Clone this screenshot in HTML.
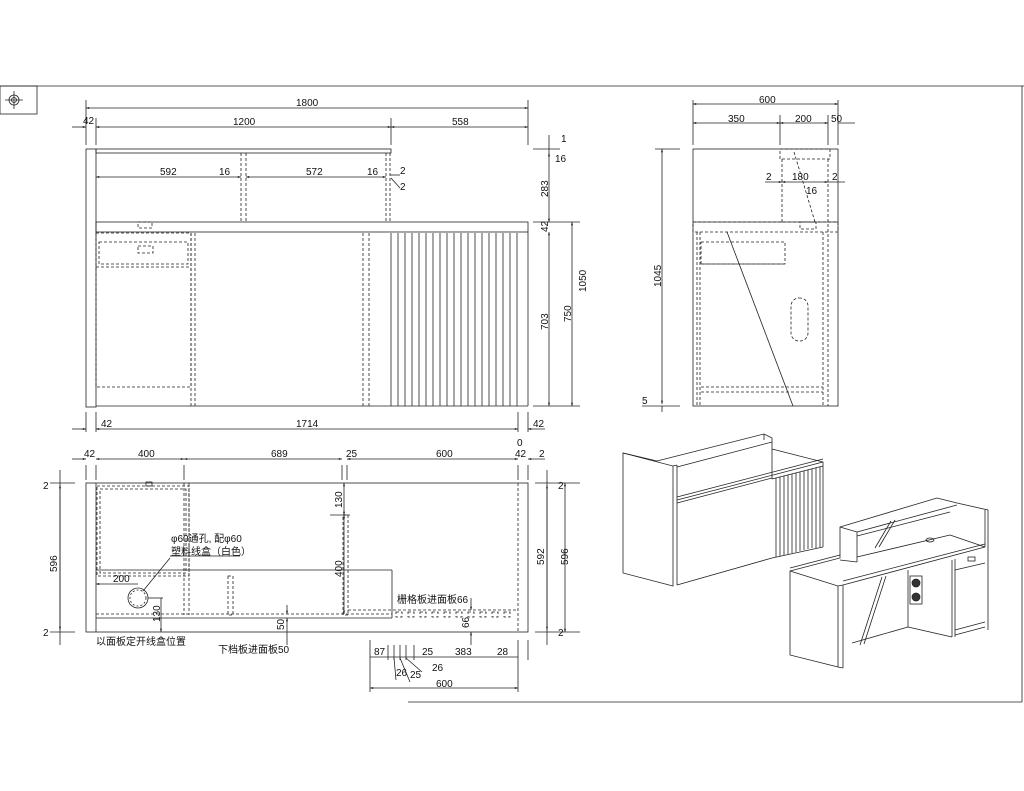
<!DOCTYPE html>
<html><head><meta charset="utf-8"><style>
html,body{margin:0;padding:0;background:#fff;width:1024px;height:791px;overflow:hidden}
svg{display:block}
text{font-family:"Liberation Sans","Noto Sans CJK SC",sans-serif;font-size:10px;fill:#111}
</style></head><body>
<svg width="1024" height="791" viewBox="0 0 1024 791" xmlns="http://www.w3.org/2000/svg">
<defs>
<marker id="a" viewBox="0 0 10 10" refX="10" refY="5" markerWidth="6" markerHeight="4" orient="auto-start-reverse"><path d="M0,2 L10,5 L0,8z" fill="#111"/></marker>
</defs>
<g stroke="#222" stroke-width="0.8" fill="none">
<!-- frame -->
<line x1="0" y1="86" x2="1024" y2="86"/>
<rect x="0" y="86" width="37" height="28"/>
<circle cx="14" cy="100" r="5"/><circle cx="14" cy="100" r="2.5"/>
<line x1="5" y1="100" x2="23" y2="100"/><line x1="14" y1="91" x2="14" y2="109"/>
<line x1="408" y1="702" x2="1022" y2="702"/><line x1="1022" y1="86" x2="1022" y2="702"/>

<!-- FRONT VIEW -->
<rect x="86" y="149" width="10" height="258"/>
<rect x="96" y="149" width="295" height="4"/>
<rect x="96" y="222" width="432" height="10"/>
<line x1="96" y1="406" x2="528" y2="406"/>
<line x1="528" y1="232" x2="528" y2="406"/>
<g stroke-dasharray="3,2">
<line x1="241" y1="153" x2="241" y2="222"/><line x1="246" y1="153" x2="246" y2="222"/>
<line x1="386" y1="153" x2="386" y2="222"/><line x1="390" y1="153" x2="390" y2="222"/>
<rect x="96" y="233" width="95" height="154"/>
<rect x="99" y="242" width="89" height="22"/>
<line x1="96" y1="267" x2="190" y2="267"/>
<line x1="191" y1="233" x2="191" y2="406"/><line x1="195" y1="233" x2="195" y2="406"/>
<line x1="363" y1="233" x2="363" y2="406"/><line x1="369" y1="233" x2="369" y2="406"/>
<rect x="138" y="222" width="14" height="6"/>
<rect x="138" y="246" width="15" height="7"/>
</g>
<g>
<line x1="391" y1="233" x2="391" y2="406"/>
<line x1="398" y1="233" x2="398" y2="406"/><line x1="405" y1="233" x2="405" y2="406"/>
<line x1="412" y1="233" x2="412" y2="406"/><line x1="419" y1="233" x2="419" y2="406"/>
<line x1="426" y1="233" x2="426" y2="406"/><line x1="433" y1="233" x2="433" y2="406"/>
<line x1="440" y1="233" x2="440" y2="406"/><line x1="447" y1="233" x2="447" y2="406"/>
<line x1="454" y1="233" x2="454" y2="406"/><line x1="461" y1="233" x2="461" y2="406"/>
<line x1="468" y1="233" x2="468" y2="406"/><line x1="475" y1="233" x2="475" y2="406"/>
<line x1="482" y1="233" x2="482" y2="406"/><line x1="489" y1="233" x2="489" y2="406"/>
<line x1="496" y1="233" x2="496" y2="406"/><line x1="503" y1="233" x2="503" y2="406"/>
<line x1="510" y1="233" x2="510" y2="406"/><line x1="517" y1="233" x2="517" y2="406"/>
</g>
<!-- front dims -->
<line x1="86" y1="100" x2="86" y2="145"/><line x1="96" y1="118" x2="96" y2="145"/>
<line x1="391" y1="118" x2="391" y2="145"/><line x1="528" y1="100" x2="528" y2="145"/>
<line x1="86" y1="108" x2="528" y2="108" marker-start="url(#a)" marker-end="url(#a)"/>
<line x1="96" y1="127" x2="391" y2="127" marker-start="url(#a)" marker-end="url(#a)"/>
<line x1="391" y1="127" x2="528" y2="127" marker-start="url(#a)" marker-end="url(#a)"/>
<line x1="72" y1="127" x2="86" y2="127" marker-end="url(#a)"/>
<line x1="96" y1="177" x2="241" y2="177" marker-start="url(#a)" marker-end="url(#a)"/>
<line x1="246" y1="177" x2="386" y2="177" marker-start="url(#a)" marker-end="url(#a)"/>
<line x1="390" y1="175" x2="400" y2="175"/><line x1="391" y1="178" x2="400" y2="188"/>
<line x1="533" y1="222" x2="580" y2="222"/><line x1="533" y1="406" x2="580" y2="406"/>
<line x1="533" y1="149" x2="560" y2="149"/>
<line x1="549" y1="135" x2="549" y2="155"/>
<line x1="549" y1="153" x2="549" y2="222" marker-start="url(#a)" marker-end="url(#a)"/>
<line x1="549" y1="232" x2="549" y2="406" marker-start="url(#a)" marker-end="url(#a)"/>
<line x1="572" y1="222" x2="572" y2="406" marker-start="url(#a)" marker-end="url(#a)"/>
<line x1="86" y1="412" x2="86" y2="432"/><line x1="96" y1="412" x2="96" y2="432"/>
<line x1="518" y1="412" x2="518" y2="432"/><line x1="528" y1="412" x2="528" y2="432"/>
<line x1="96" y1="429" x2="518" y2="429" marker-start="url(#a)" marker-end="url(#a)"/>
<line x1="72" y1="429" x2="86" y2="429" marker-end="url(#a)"/>
<line x1="545" y1="429" x2="528" y2="429" marker-end="url(#a)"/>

<!-- PLAN VIEW -->
<rect x="86" y="483" width="442" height="149"/>
<line x1="96" y1="483" x2="96" y2="632"/>
<line x1="96" y1="570" x2="392" y2="570"/>
<line x1="392" y1="570" x2="392" y2="618"/>
<line x1="96" y1="618" x2="392" y2="618"/>
<g stroke-dasharray="3,2">
<rect x="97" y="486" width="92" height="90"/><rect x="100" y="489" width="86" height="84"/>
<line x1="184" y1="483" x2="184" y2="615"/><line x1="189" y1="483" x2="189" y2="615"/>
<rect x="228" y="576" width="5" height="39"/>
<rect x="343" y="515" width="5" height="100"/>
<line x1="96" y1="614" x2="392" y2="614"/>
<line x1="348" y1="610" x2="517" y2="610"/>
<line x1="518" y1="483" x2="518" y2="632"/>
<rect x="396" y="612" width="6" height="5"/><rect x="408" y="612" width="6" height="5"/><rect x="420" y="612" width="6" height="5"/><rect x="432" y="612" width="6" height="5"/><rect x="444" y="612" width="6" height="5"/><rect x="456" y="612" width="6" height="5"/><rect x="468" y="612" width="6" height="5"/><rect x="480" y="612" width="6" height="5"/><rect x="492" y="612" width="6" height="5"/><rect x="504" y="612" width="6" height="5"/>
</g>
<rect x="146" y="482" width="6" height="4"/>
<circle cx="138" cy="598" r="10"/><circle cx="138" cy="598" r="8" stroke-dasharray="2,2"/>
<line x1="96" y1="584" x2="138" y2="584" marker-start="url(#a)"/>
<line x1="143" y1="591" x2="170" y2="558"/>
<line x1="170" y1="556" x2="240" y2="556"/>
<line x1="148" y1="598" x2="163" y2="598"/>
<line x1="161" y1="598" x2="161" y2="632" marker-end="url(#a)"/>
<line x1="330" y1="515" x2="350" y2="515"/>
<line x1="344" y1="483" x2="344" y2="515" marker-start="url(#a)" marker-end="url(#a)"/>
<line x1="344" y1="515" x2="344" y2="614" marker-start="url(#a)" marker-end="url(#a)"/>
<line x1="287" y1="605" x2="287" y2="614" marker-end="url(#a)"/>
<line x1="287" y1="645" x2="287" y2="618" marker-end="url(#a)"/>
<line x1="471" y1="598" x2="471" y2="610" marker-end="url(#a)"/>
<line x1="471" y1="645" x2="471" y2="632" marker-end="url(#a)"/>
<!-- plan dims -->
<line x1="86" y1="465" x2="86" y2="480"/><line x1="96" y1="465" x2="96" y2="480"/>
<line x1="184" y1="465" x2="184" y2="480"/><line x1="342" y1="465" x2="342" y2="480"/>
<line x1="347" y1="465" x2="347" y2="480"/><line x1="518" y1="465" x2="518" y2="480"/><line x1="528" y1="465" x2="528" y2="480"/>
<line x1="96" y1="459" x2="184" y2="459" marker-start="url(#a)" marker-end="url(#a)"/>
<line x1="184" y1="459" x2="342" y2="459" marker-start="url(#a)" marker-end="url(#a)"/>
<line x1="347" y1="459" x2="518" y2="459" marker-start="url(#a)" marker-end="url(#a)"/>
<line x1="72" y1="459" x2="86" y2="459" marker-end="url(#a)"/>
<line x1="545" y1="459" x2="528" y2="459" marker-end="url(#a)"/>
<line x1="50" y1="483" x2="75" y2="483"/><line x1="50" y1="632" x2="75" y2="632"/>
<line x1="60" y1="470" x2="60" y2="645"/>
<line x1="60" y1="485" x2="60" y2="630" marker-start="url(#a)" marker-end="url(#a)"/>
<line x1="535" y1="483" x2="580" y2="483"/><line x1="535" y1="632" x2="580" y2="632"/>
<line x1="547" y1="485" x2="547" y2="630" marker-start="url(#a)" marker-end="url(#a)"/>
<line x1="565" y1="483" x2="565" y2="632" marker-start="url(#a)" marker-end="url(#a)"/>
<line x1="547" y1="470" x2="547" y2="645"/>
<line x1="370" y1="640" x2="370" y2="692"/><line x1="518" y1="640" x2="518" y2="692"/><line x1="528" y1="640" x2="528" y2="660"/>
<line x1="370" y1="657" x2="518" y2="657"/>
<line x1="388" y1="645" x2="388" y2="660"/><line x1="394" y1="645" x2="394" y2="660"/><line x1="400" y1="645" x2="400" y2="660"/><line x1="406" y1="645" x2="406" y2="660"/><line x1="414" y1="645" x2="414" y2="660"/>
<line x1="370" y1="688" x2="518" y2="688" marker-start="url(#a)" marker-end="url(#a)"/>
<line x1="394" y1="658" x2="396" y2="680"/><line x1="400" y1="658" x2="410" y2="682"/><line x1="406" y1="658" x2="422" y2="672"/>
</g>

<!-- SIDE VIEW -->
<g stroke="#222" stroke-width="0.8" fill="none">
<rect x="693" y="149" width="145" height="257"/>
<line x1="693" y1="222" x2="838" y2="222"/>
<g stroke-dasharray="3,2">
<rect x="693" y="222" width="145" height="10"/>
<rect x="780" y="149" width="50" height="10"/>
<line x1="782" y1="159" x2="782" y2="222"/><line x1="828" y1="159" x2="828" y2="406"/><line x1="823" y1="232" x2="823" y2="406"/>
<line x1="794" y1="152" x2="815" y2="222"/>
<rect x="800" y="222" width="16" height="7"/>
<rect x="701" y="242" width="84" height="22"/><line x1="701" y1="264" x2="785" y2="264"/>
<line x1="697" y1="232" x2="697" y2="406"/><line x1="700" y1="232" x2="700" y2="406"/>
<line x1="701" y1="387" x2="823" y2="387"/><line x1="701" y1="392" x2="823" y2="392"/>
<rect x="791" y="298" width="17" height="43" rx="8"/>
</g>
<line x1="727" y1="232" x2="793" y2="406"/>
<line x1="693" y1="100" x2="693" y2="145"/><line x1="780" y1="115" x2="780" y2="145"/><line x1="828" y1="115" x2="828" y2="145"/><line x1="838" y1="100" x2="838" y2="145"/>
<line x1="693" y1="104" x2="838" y2="104" marker-start="url(#a)" marker-end="url(#a)"/>
<line x1="693" y1="123" x2="780" y2="123" marker-start="url(#a)" marker-end="url(#a)"/>
<line x1="780" y1="123" x2="828" y2="123" marker-start="url(#a)" marker-end="url(#a)"/>
<line x1="838" y1="123" x2="855" y2="123"/>
<line x1="765" y1="182" x2="782" y2="182" marker-end="url(#a)"/>
<line x1="782" y1="182" x2="828" y2="182" marker-start="url(#a)" marker-end="url(#a)"/>
<line x1="828" y1="182" x2="845" y2="182"/>
<line x1="655" y1="149" x2="680" y2="149"/><line x1="642" y1="406" x2="680" y2="406"/>
<line x1="662" y1="149" x2="662" y2="404" marker-start="url(#a)" marker-end="url(#a)"/>
<line x1="662" y1="406" x2="662" y2="412"/>
</g>

<!-- ISO LEFT -->
<g stroke="#222" stroke-width="0.8" fill="none">
<polygon points="623,453 673,466 673,586 623,573"/>
<line x1="673" y1="466" x2="677" y2="465"/><line x1="677" y1="465" x2="677" y2="585"/>
<polyline points="623,453 657,461 764,434 772,438 772,442 677,467"/>
<line x1="764" y1="434" x2="764" y2="440"/>
<line x1="772" y1="442" x2="772" y2="479"/>
<polyline points="772,449 823,462 823,547"/>
<polyline points="677,497 823,459"/>
<polyline points="677,500 823,462"/>
<line x1="677" y1="503" x2="772" y2="478"/>
<line x1="677" y1="585" x2="772" y2="558"/>
<line x1="772" y1="479" x2="823" y2="466"/>
<line x1="772" y1="558" x2="823" y2="547"/>
<g>
<line x1="776" y1="478" x2="776" y2="557"/><line x1="780" y1="477" x2="780" y2="556"/><line x1="784" y1="476" x2="784" y2="555"/>
<line x1="788" y1="475" x2="788" y2="554"/><line x1="792" y1="474" x2="792" y2="553"/><line x1="796" y1="473" x2="796" y2="552"/>
<line x1="800" y1="472" x2="800" y2="551"/><line x1="804" y1="471" x2="804" y2="550"/><line x1="808" y1="470" x2="808" y2="549"/>
<line x1="812" y1="469" x2="812" y2="548"/><line x1="816" y1="468" x2="816" y2="548"/><line x1="820" y1="467" x2="820" y2="547"/>
</g>
</g>

<!-- ISO RIGHT -->
<g stroke="#222" stroke-width="0.8" fill="none">
<polygon points="790,571 838,586 838,667 790,655"/>
<line x1="838" y1="586" x2="843" y2="585"/><line x1="843" y1="585" x2="843" y2="668"/><line x1="838" y1="667" x2="843" y2="668"/>
<polyline points="790,571 840,558 840,527 937,498 957,503 988,510 988,630"/>
<line x1="790" y1="568" x2="840" y2="555"/>
<polyline points="840,527 857,532 857,562"/>
<line x1="840" y1="560" x2="857" y2="562"/>
<line x1="857" y1="532" x2="957" y2="505"/>
<line x1="857" y1="536" x2="950" y2="512"/>
<line x1="985" y1="510" x2="985" y2="547"/>
<line x1="857" y1="557" x2="950" y2="535"/>
<line x1="950" y1="535" x2="985" y2="547"/>
<line x1="843" y1="585" x2="985" y2="547"/>
<line x1="843" y1="581" x2="985" y2="544"/>
<line x1="908" y1="570" x2="908" y2="627"/>
<line x1="952" y1="560" x2="952" y2="637"/><line x1="955" y1="559" x2="955" y2="637"/>
<line x1="955" y1="570" x2="985" y2="563"/>
<line x1="852" y1="643" x2="908" y2="627"/><line x1="908" y1="627" x2="952" y2="637"/>
<line x1="955" y1="635" x2="985" y2="627"/><line x1="955" y1="630" x2="985" y2="622"/>
<line x1="882" y1="577" x2="860" y2="645"/><line x1="886" y1="576" x2="864" y2="644"/>
<line x1="891" y1="521" x2="875" y2="548"/><line x1="895" y1="520" x2="879" y2="547"/>
<rect x="968" y="557" width="7" height="4"/>
<ellipse cx="930" cy="540" rx="4" ry="2"/>
<circle cx="916" cy="583" r="4" fill="#333"/><circle cx="916" cy="597" r="4" fill="#333"/>
<rect x="910" y="576" width="12" height="28"/>
</g>

<!-- TEXT -->
<g>
<text x="296" y="106">1800</text>
<text x="233" y="125">1200</text>
<text x="452" y="125">558</text>
<text x="83" y="124">42</text>
<text x="160" y="175">592</text>
<text x="219" y="175">16</text>
<text x="306" y="175">572</text>
<text x="367" y="175">16</text>
<text x="400" y="174">2</text>
<text x="400" y="190">2</text>
<text x="561" y="142">1</text>
<text x="555" y="162">16</text>
<text x="548" y="197" transform="rotate(-90 548 197)">283</text>
<text x="548" y="232" transform="rotate(-90 548 232)">42</text>
<text x="548" y="330" transform="rotate(-90 548 330)">703</text>
<text x="571" y="322" transform="rotate(-90 571 322)">750</text>
<text x="586" y="292" transform="rotate(-90 586 292)">1050</text>
<text x="101" y="427">42</text>
<text x="296" y="427">1714</text>
<text x="533" y="427">42</text>

<text x="84" y="457">42</text>
<text x="138" y="457">400</text>
<text x="271" y="457">689</text>
<text x="346" y="457">25</text>
<text x="436" y="457">600</text>
<text x="515" y="457">42</text>
<text x="517" y="446">0</text>
<text x="539" y="457">2</text>
<text x="43" y="489">2</text>
<text x="43" y="636">2</text>
<text x="558" y="489">2</text>
<text x="558" y="636">2</text>
<text x="57" y="572" transform="rotate(-90 57 572)">596</text>
<text x="544" y="565" transform="rotate(-90 544 565)">592</text>
<text x="568" y="565" transform="rotate(-90 568 565)">596</text>
<text x="342" y="508" transform="rotate(-90 342 508)">130</text>
<text x="342" y="577" transform="rotate(-90 342 577)">400</text>
<text x="160" y="622" transform="rotate(-90 160 622)">130</text>
<text x="284" y="630" transform="rotate(-90 284 630)">50</text>
<text x="469" y="628" transform="rotate(-90 469 628)">66</text>
<text x="113" y="582">200</text>
<text x="171" y="542">φ60通孔, 配φ60</text>
<text x="171" y="555">塑料线盒（白色）</text>
<text x="397" y="603">栅格板进面板66</text>
<text x="96" y="645">以面板定开线盒位置</text>
<text x="218" y="653">下档板进面板50</text>
<text x="374" y="655">87</text>
<text x="422" y="655">25</text>
<text x="455" y="655">383</text>
<text x="497" y="655">28</text>
<text x="396" y="676">26</text>
<text x="410" y="678">25</text>
<text x="432" y="671">26</text>
<text x="436" y="687">600</text>

<text x="759" y="103">600</text>
<text x="728" y="122">350</text>
<text x="795" y="122">200</text>
<text x="831" y="122">50</text>
<text x="766" y="180">2</text>
<text x="792" y="180">180</text>
<text x="806" y="194">16</text>
<text x="832" y="180">2</text>
<text x="661" y="287" transform="rotate(-90 661 287)">1045</text>
<text x="642" y="404">5</text>
</g>
</svg>
</body></html>
